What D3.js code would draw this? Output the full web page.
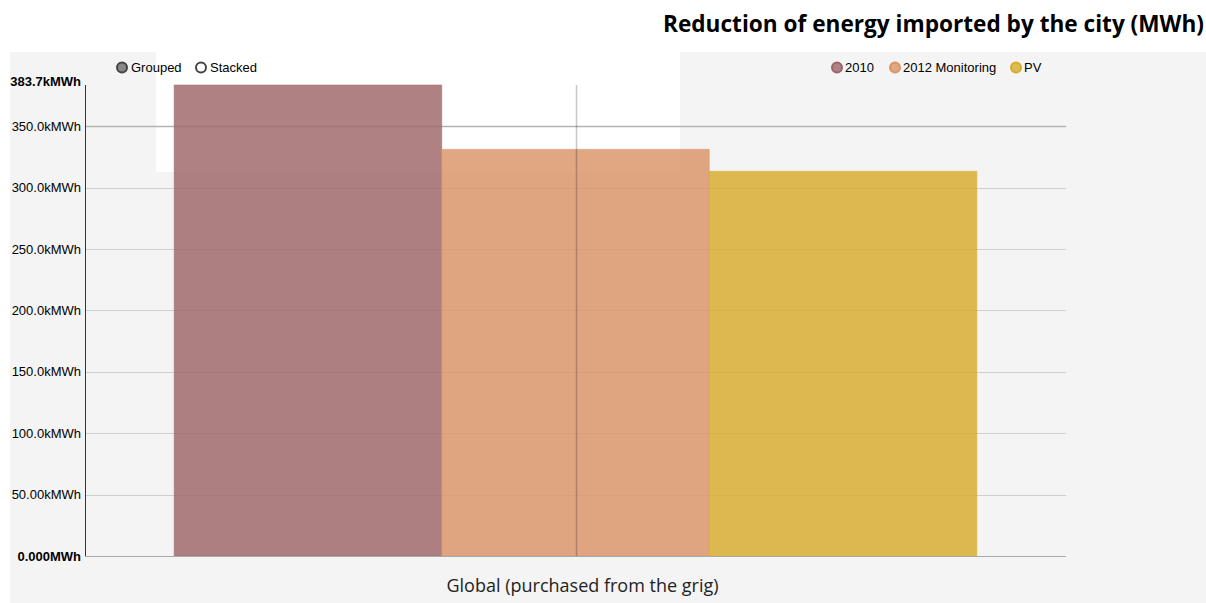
<!DOCTYPE html>
<html>
<head>
<meta charset="utf-8">
<script src="https://cdn.jsdelivr.net/npm/d3@7"></script>
<style>
  html, body { margin: 0; padding: 0; background: #fff; }
  svg { display: block; }
  text { font-family: "Liberation Sans", Arial, sans-serif; }
</style>
</head>
<body>
<svg id="chart" width="1206" height="603"></svg>
<script>
// Chart data
const categories = ["Global (purchased from the grig)"];
const seriesNames = ["2010", "2012 Monitoring", "PV"];
const seriesColors = ["#9f6566", "#da9466", "#d8ab2b"];
const seriesValues = [383700, 331300, 313400];
const yTicks = [0, 50000, 100000, 150000, 200000, 250000, 300000, 350000];
const yTickLabels = ["0.000MWh", "50.00kMWh", "100.0kMWh", "150.0kMWh", "200.0kMWh",
                     "250.0kMWh", "300.0kMWh", "350.0kMWh"];
const yMaxLabel = "383.7kMWh";
const modeNames = ["Grouped", "Stacked"];
const titleText = "Reduction of energy imported by the city (MWh)";

const svg = d3.select("#chart");
const W = 1206, H = 603;
const m = { left: 85, right: 140, top: 85, bottom: 47 };
const plotW = W - m.left - m.right;
const plotH = H - m.top - m.bottom;

// Panel background
svg.append("rect").attr("x", 10).attr("y", 52).attr("width", W - 10).attr("height", H - 52)
  .attr("fill", "#f4f4f4");
svg.append("rect").attr("x", 156).attr("y", 52).attr("width", 524).attr("height", 120)
  .attr("fill", "#ffffff");

// Title
svg.append("text").attr("x", 1204).attr("y", 32).attr("text-anchor", "end")
  .style("font-family", "'Open Sans', sans-serif").style("font-weight", "bold")
  .style("font-size", "22.5px").attr("fill", "#000")
  .attr("textLength", 541).attr("lengthAdjust", "spacingAndGlyphs").text(titleText);

const g = svg.append("g").attr("transform", `translate(${m.left},${m.top})`);

const y = d3.scaleLinear().domain([0, d3.max(seriesValues)]).range([plotH, 0]);
const x0 = d3.scaleBand().domain(categories).range([0, plotW]).paddingInner(0.1).paddingOuter(0.1);
const x1 = d3.scaleBand().domain(seriesNames).range([0, x0.bandwidth()]);

// Horizontal grid
g.append("g").selectAll("line").data(yTicks.slice(1)).join("line")
  .attr("x1", 0).attr("x2", plotW)
  .attr("y1", d => Math.round(y(d)) + 0.5).attr("y2", d => Math.round(y(d)) + 0.5)
  .attr("stroke", (d, i) => i === yTicks.length - 2 ? "#b4b4b4" : "#cfcfcf")
  .attr("stroke-width", (d, i) => i === yTicks.length - 2 ? 1.6 : 1);

// Bars
const bars = g.append("g").selectAll("g").data(categories).join("g")
  .attr("transform", d => `translate(${x0(d)},0)`);
bars.selectAll("rect").data(seriesNames.map((s, i) => ({ s, v: seriesValues[i], c: seriesColors[i] })))
  .join("rect")
  .attr("x", d => x1(d.s)).attr("width", x1.bandwidth())
  .attr("y", d => y(d.v)).attr("height", d => plotH - y(d.v))
  .attr("fill", d => d.c).attr("fill-opacity", 0.82)
  .attr("stroke", d => d.c).attr("stroke-opacity", 0.5).attr("stroke-width", 1);

// Hover guide at the category centre
categories.forEach(c => {
  const cx = Math.round(x0(c) + x0.bandwidth() / 2) + 0.5;
  g.append("line").attr("x1", cx).attr("x2", cx).attr("y1", 0).attr("y2", plotH)
    .attr("stroke", "#000").attr("stroke-opacity", 0.22).attr("stroke-width", 1.5);
});

// Axes
g.append("line").attr("x1", 0).attr("x2", plotW).attr("y1", plotH + 0.5).attr("y2", plotH + 0.5)
  .attr("stroke", "#aaa");
g.append("line").attr("x1", 0.5).attr("x2", 0.5).attr("y1", 0).attr("y2", plotH)
  .attr("stroke", "#333");

const yAxis = g.append("g");
yAxis.selectAll("text.tick").data(yTicks).join("text")
  .attr("x", -4).attr("y", d => y(d)).attr("dy", "0.35em")
  .attr("text-anchor", "end").style("font-size", "13px").attr("fill", "#000")
  .style("font-weight", (d, i) => i === 0 ? "bold" : "normal")
  .text((d, i) => yTickLabels[i]);
yAxis.append("text").attr("x", -4).attr("y", y(d3.max(seriesValues))).attr("dy", "0.1em")
  .attr("text-anchor", "end").style("font-size", "13px").style("font-weight", "bold")
  .attr("fill", "#000").text(yMaxLabel);

// Category label
g.selectAll("text.cat").data(categories).join("text")
  .attr("x", d => x0(d) + x0.bandwidth() / 2 + 7).attr("y", plotH + 36)
  .attr("text-anchor", "middle").style("font-family", "'Open Sans', sans-serif")
  .style("font-size", "18px").attr("fill", "#222").text(d => d);

// Mode legend
const modeX = [122, 201];
modeNames.forEach((n, i) => {
  svg.append("circle").attr("cx", modeX[i]).attr("cy", 67.5).attr("r", 5)
    .attr("fill", i === 0 ? "#888" : "#fff").attr("stroke", "#444").attr("stroke-width", 2);
  svg.append("text").attr("x", modeX[i] + 9).attr("y", 67.5).attr("dy", "0.35em")
    .style("font-size", "13px").attr("fill", "#000").text(n);
});

// Series legend
const legX = [837, 895, 1016];
seriesNames.forEach((n, i) => {
  svg.append("circle").attr("cx", legX[i]).attr("cy", 67.5).attr("r", 5)
    .attr("fill", seriesColors[i]).attr("fill-opacity", 0.8)
    .attr("stroke", seriesColors[i]).attr("stroke-width", 2);
  svg.append("text").attr("x", legX[i] + 8).attr("y", 67.5).attr("dy", "0.35em")
    .style("font-size", "13px").attr("fill", "#000").text(n);
});
</script>
</body>
</html>
